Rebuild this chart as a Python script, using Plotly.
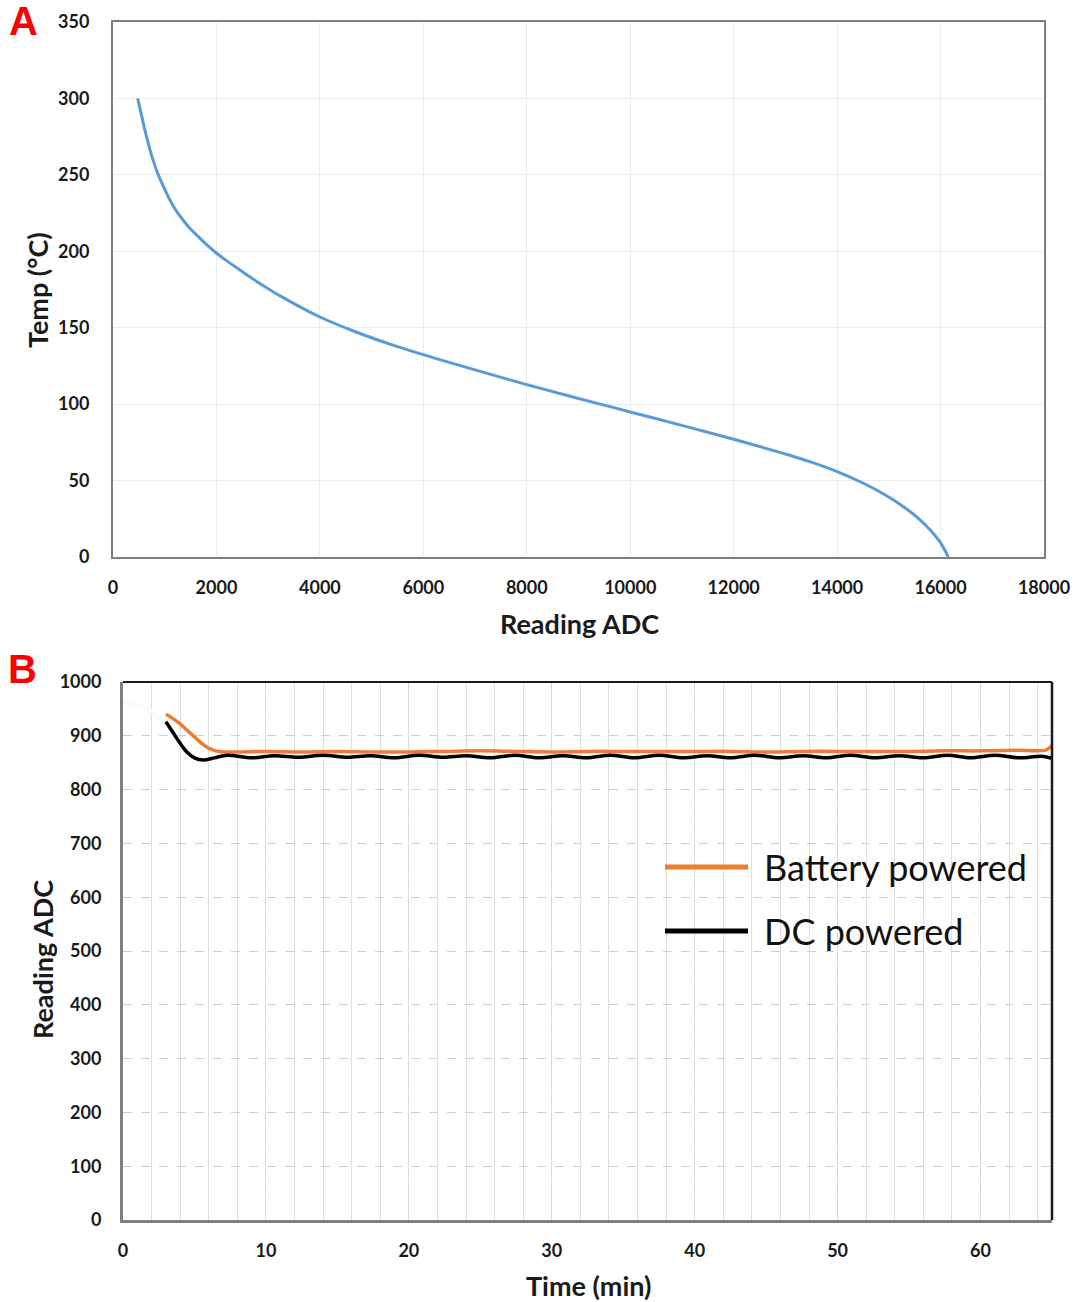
import plotly.graph_objects as go

# ---------------- Data: panel A (calibration curve) ----------------
adc_reading = [477, 530, 586, 650, 715, 790, 876, 970, 1069, 1190, 1327, 1480, 1649,
               1820, 2004, 2180, 2358, 2700, 3300, 4000, 4700, 5500, 6200, 7000,
               8000, 9000, 10000, 11000, 12000, 13000, 13500, 14000, 14500, 14900,
               15250, 15550, 15800, 16000, 16150]
temp_c = [300, 292.2, 283.7, 274.8, 266.3, 258, 250, 242.8, 235.7, 228.2, 221.6, 215.3,
          209.6, 204.1, 198.7, 194.2, 190, 182, 169.5, 157, 147.2, 137.6, 130.3, 122.4,
          112.8, 103.7, 94.9, 86.1, 77, 67.4, 62.1, 55.9, 48.4, 41.2,
          33.7, 25.9, 17.6, 9.2, 0]

# ---------------- Data: panel B (ADC over time) ----------------
t_batt = [3.0, 3.5, 4.0, 4.5, 5.0, 5.5, 6.0, 6.5, 7.0, 8.0, 10.0, 12.5, 15.0, 17.5,
          20.0, 22.5, 25.0, 27.5, 30.0, 32.5, 35.0, 37.5, 40.0, 42.5, 45.0, 47.5,
          50.0, 52.5, 55.0, 57.5, 60.0, 62.5, 64.6, 65.0]
adc_batt = [940, 932, 922, 910, 898, 886, 877, 872, 870, 870, 871, 870, 871, 870,
            870, 871, 872, 871, 870, 871, 871, 871, 871, 871, 870, 871,
            871, 871, 871, 872, 872, 873, 874, 882]

t_dc = [3.0, 3.5, 4.0, 4.5, 5.0, 5.6, 6.4, 7.3, 9.0, 10.6, 12.3, 14.0, 15.7, 17.3,
        19.0, 20.7, 22.4, 24.0, 25.7, 27.4, 29.1, 30.8, 32.4, 34.1, 35.8, 37.5,
        39.2, 40.9, 42.5, 44.2, 45.9, 47.6, 49.2, 50.9, 52.6, 54.3, 56.0, 57.7,
        59.3, 61.0, 62.7, 64.3, 65.0]
adc_dc = [926, 906, 886, 869, 859, 855, 859, 864, 859, 863, 860, 864, 860, 863,
          859, 864, 860, 863, 859, 864, 859, 863, 859, 864, 859, 864,
          859, 863, 859, 864, 859, 863, 859, 864, 859, 863, 859, 864,
          859, 864, 859, 862, 858]

t_ghost = [0.0, 1.0, 2.0, 3.0]
adc_ghost = [962, 958, 945, 922]

x_ticks_a = [0, 2000, 4000, 6000, 8000, 10000, 12000, 14000, 16000, 18000]
x_ticktext_a = [str(v) for v in x_ticks_a]
y_ticks_a = [0, 50, 100, 150, 200, 250, 300, 350]
x_ticks_b = [0, 10, 20, 30, 40, 50, 60]
y_ticks_b = [0, 100, 200, 300, 400, 500, 600, 700, 800, 900, 1000]

W, H = 1077, 1302
FONT = "Lato"


def px(x):
    return x / W


def py(y):
    return 1 - y / H


fig = go.Figure()

fig.add_trace(go.Scatter(x=adc_reading, y=temp_c, mode="lines",
                         line=dict(color="#5b9bd5", width=3, shape="spline", smoothing=1.0),
                         xaxis="x", yaxis="y", showlegend=False))

fig.add_trace(go.Scatter(x=t_ghost, y=adc_ghost, mode="lines",
                         line=dict(color="#fafafa", width=4, shape="spline"),
                         xaxis="x2", yaxis="y2", showlegend=False))
fig.add_trace(go.Scatter(x=t_batt, y=adc_batt, mode="lines", name="Battery powered",
                         line=dict(color="#ed7d31", width=3.5, shape="spline"),
                         xaxis="x2", yaxis="y2", showlegend=False))
fig.add_trace(go.Scatter(x=t_dc, y=adc_dc, mode="lines", name="DC powered",
                         line=dict(color="#000000", width=3.5, shape="spline"),
                         xaxis="x2", yaxis="y2", showlegend=False))

tickfont = dict(family=FONT, size=18, color="#1a1a1a", weight="bold")

fig.update_layout(
    width=W, height=H,
    margin=dict(l=0, r=0, t=0, b=0, autoexpand=False),
    paper_bgcolor="white", plot_bgcolor="white",
    showlegend=False,
    xaxis=dict(domain=[px(113), px(1044)], anchor="y", range=[0, 18000],
               tickvals=x_ticks_a, ticktext=x_ticktext_a,
               showgrid=True, gridcolor="#ececec", gridwidth=1,
               showline=True, linecolor="#7f7f7f", linewidth=2, mirror=True,
               ticks="", tickfont=tickfont, ticklabelstandoff=13, zeroline=False,
               automargin=False),
    yaxis=dict(domain=[py(557), py(22)], anchor="x", range=[0, 350],
               tickvals=y_ticks_a, showgrid=True, gridcolor="#ececec", gridwidth=1,
               showline=True, linecolor="#7f7f7f", linewidth=2, mirror=True,
               ticks="", tickfont=tickfont, ticklabelstandoff=18, zeroline=False,
               automargin=False),
    xaxis2=dict(domain=[px(123), px(1052)], anchor="y2", range=[0, 65],
                tickvals=x_ticks_b, showgrid=True, gridcolor="#d6d6d6", gridwidth=1,
                griddash="dash",
                minor=dict(dtick=2, tick0=0, showgrid=True, gridcolor="#dedede",
                           gridwidth=1, griddash="solid", ticks=""),
                showline=True, linecolor="#808080", linewidth=3,
                ticks="", tickfont=tickfont, ticklabelstandoff=12, zeroline=False,
                automargin=False),
    yaxis2=dict(domain=[py(1220), py(682)], anchor="x2", range=[0, 1000],
                tickvals=y_ticks_b, showgrid=True, gridcolor="#d0d0d0", gridwidth=1,
                griddash="dash",
                showline=True, linecolor="#808080", linewidth=3,
                ticks="", tickfont=tickfont, ticklabelstandoff=15, zeroline=False,
                automargin=False),
)

# Top and right frame lines of panel B (black)
fig.add_shape(type="line", xref="x2 domain", yref="y2 domain", x0=0, x1=1, y0=1, y1=1,
              line=dict(color="#1a1a1a", width=2))
fig.add_shape(type="line", xref="x2 domain", yref="y2 domain", x0=1, x1=1, y0=0, y1=1,
              line=dict(color="#1a1a1a", width=2.5))

# Manual legend for panel B
legend_items = [("Battery powered", "#ed7d31", 867), ("DC powered", "#000000", 931)]
for label, color, yy in legend_items:
    fig.add_shape(type="line", xref="paper", yref="paper",
                  x0=px(665), x1=px(748), y0=py(yy), y1=py(yy),
                  line=dict(color=color, width=5))
    fig.add_annotation(x=px(762), y=py(yy), xref="paper", yref="paper",
                       text=label, showarrow=False, xanchor="left", yanchor="middle",
                       font=dict(family=FONT, size=36, color="#111111"))

title_font = dict(family=FONT, size=27, color="#1a1a1a", weight="bold")
annots = [
    dict(x=px(579), y=py(623), text="Reading ADC", textangle=0),
    dict(x=px(38), y=py(290), text="Temp (°C)", textangle=-90),
    dict(x=px(588), y=py(1285), text="Time (min)", textangle=0),
    dict(x=px(42), y=py(960), text="Reading ADC", textangle=-90),
]
for a in annots:
    fig.add_annotation(xref="paper", yref="paper", showarrow=False,
                       xanchor="center", yanchor="middle", font=title_font, **a)

# Panel letters
for letter, xx, yy in [("A", 23, 21), ("B", 22, 669)]:
    fig.add_annotation(x=px(xx), y=py(yy), xref="paper", yref="paper", text=letter,
                       showarrow=False, xanchor="center", yanchor="middle",
                       font=dict(family="Liberation Sans", size=40, color="#ff0000",
                                 weight="bold"))

fig.write_html("out.html", config={"displayModeBar": False},
               post_script="document.body.style.margin='0';document.body.style.overflow='hidden';")
